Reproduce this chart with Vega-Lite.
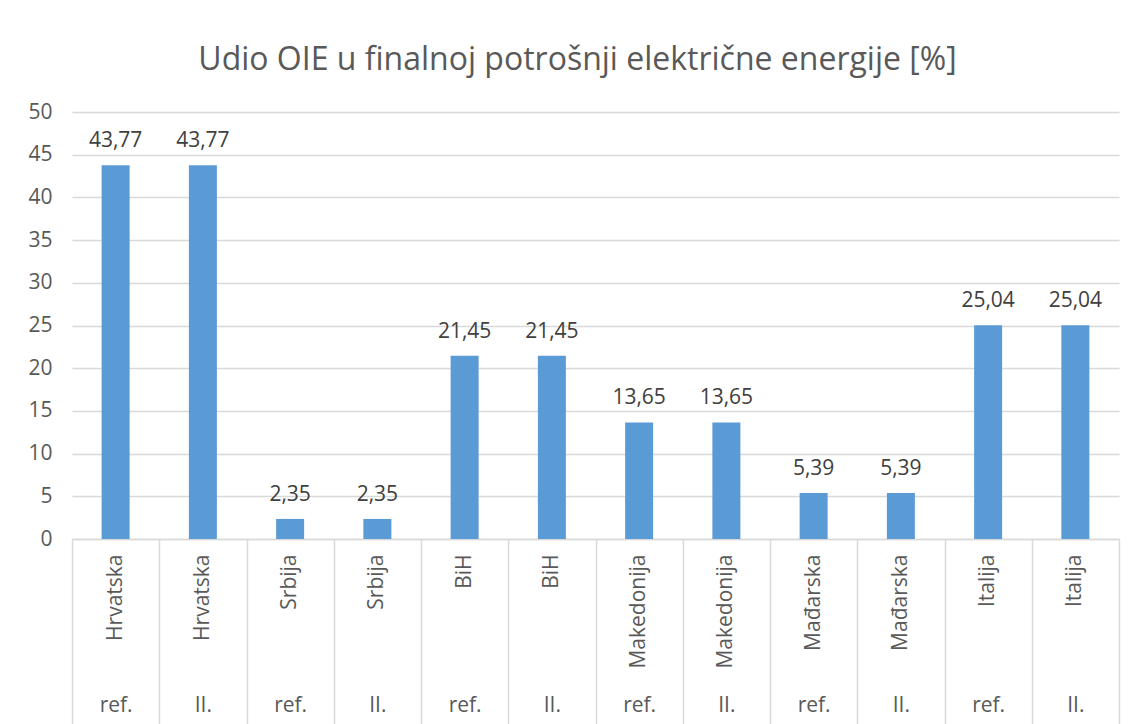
{
  "$schema": "https://vega.github.io/schema/vega-lite/v6.json",
  "width": 1047,
  "height": 427,
  "autosize": "none",
  "padding": {"left": 72, "top": 112, "right": 15, "bottom": 185},
  "background": "white",
  "config": {
    "locale": {"number": {"decimal": ",", "thousands": ".", "grouping": [3], "currency": ["", " €"]}},
    "view": {"stroke": null},
    "font": "Open Sans"
  },
  "title": {
    "text": "Udio OIE u finalnoj potrošnji električne energije [%]",
    "fontSize": 32,
    "fontWeight": "normal",
    "color": "#595959",
    "anchor": "middle",
    "baseline": "alphabetic",
    "offset": -1,
    "dx": -18
  },
  "data": {
    "values": [
      {"kat": "Hrvatska|ref.", "zemlja": "Hrvatska", "scenarij": "ref.", "vrijednost": 43.77},
      {"kat": "Hrvatska|II.", "zemlja": "Hrvatska", "scenarij": "II.", "vrijednost": 43.77},
      {"kat": "Srbija|ref.", "zemlja": "Srbija", "scenarij": "ref.", "vrijednost": 2.35},
      {"kat": "Srbija|II.", "zemlja": "Srbija", "scenarij": "II.", "vrijednost": 2.35},
      {"kat": "BiH|ref.", "zemlja": "BiH", "scenarij": "ref.", "vrijednost": 21.45},
      {"kat": "BiH|II.", "zemlja": "BiH", "scenarij": "II.", "vrijednost": 21.45},
      {"kat": "Makedonija|ref.", "zemlja": "Makedonija", "scenarij": "ref.", "vrijednost": 13.65},
      {"kat": "Makedonija|II.", "zemlja": "Makedonija", "scenarij": "II.", "vrijednost": 13.65},
      {"kat": "Mađarska|ref.", "zemlja": "Mađarska", "scenarij": "ref.", "vrijednost": 5.39},
      {"kat": "Mađarska|II.", "zemlja": "Mađarska", "scenarij": "II.", "vrijednost": 5.39},
      {"kat": "Italija|ref.", "zemlja": "Italija", "scenarij": "ref.", "vrijednost": 25.04},
      {"kat": "Italija|II.", "zemlja": "Italija", "scenarij": "II.", "vrijednost": 25.04}
    ]
  },
  "resolve": {"axis": {"x": "independent"}, "scale": {"x": "independent"}},
  "layer": [
    {
      "mark": {"type": "point", "opacity": 0},
      "encoding": {
        "x": {
          "field": "kat", "type": "nominal", "sort": null,
          "scale": {"paddingInner": 0, "paddingOuter": 0},
          "axis": {
            "title": null, "orient": "bottom", "domain": false,
            "tickBand": "extent", "tickSize": 190, "tickColor": "#d9d9d9", "tickWidth": 1.5,
            "labelExpr": "split(datum.label, '|')[1]",
            "labelAngle": 0, "labelAlign": "center", "labelBaseline": "middle",
            "labelPadding": -24, "labelFontSize": 21, "labelColor": "#595959"
          }
        },
        "y": {"field": "vrijednost", "type": "quantitative"}
      }
    },
    {
      "mark": {"type": "bar", "color": "#5b9bd5"},
      "encoding": {
        "x": {
          "field": "kat", "type": "nominal", "sort": null,
          "scale": {"paddingInner": 0.679, "paddingOuter": 0.3395},
          "axis": {
            "title": null, "orient": "bottom",
            "labelExpr": "split(datum.label, '|')[0]",
            "labelAngle": -90, "labelAlign": "right", "labelBaseline": "middle",
            "labelPadding": 15, "labelFontSize": 21, "labelColor": "#595959",
            "ticks": false, "domainColor": "#d9d9d9", "domainWidth": 1.5
          }
        },
        "y": {
          "field": "vrijednost", "type": "quantitative",
          "scale": {"domain": [0, 50], "nice": false},
          "axis": {
            "title": null, "values": [0, 5, 10, 15, 20, 25, 30, 35, 40, 45, 50],
            "grid": true, "gridColor": "#d9d9d9", "gridWidth": 1.5,
            "domain": false, "ticks": false,
            "labelFontSize": 21, "labelColor": "#595959", "labelPadding": 20
          }
        }
      }
    },
    {
      "mark": {"type": "text", "baseline": "alphabetic", "dy": -18, "fontSize": 21, "color": "#404040"},
      "encoding": {
        "x": {
          "field": "kat", "type": "nominal", "sort": null,
          "scale": {"paddingInner": 0.679, "paddingOuter": 0.3395},
          "axis": null
        },
        "y": {"field": "vrijednost", "type": "quantitative"},
        "text": {"field": "vrijednost", "type": "quantitative", "format": ".2f"}
      }
    }
  ]
}
